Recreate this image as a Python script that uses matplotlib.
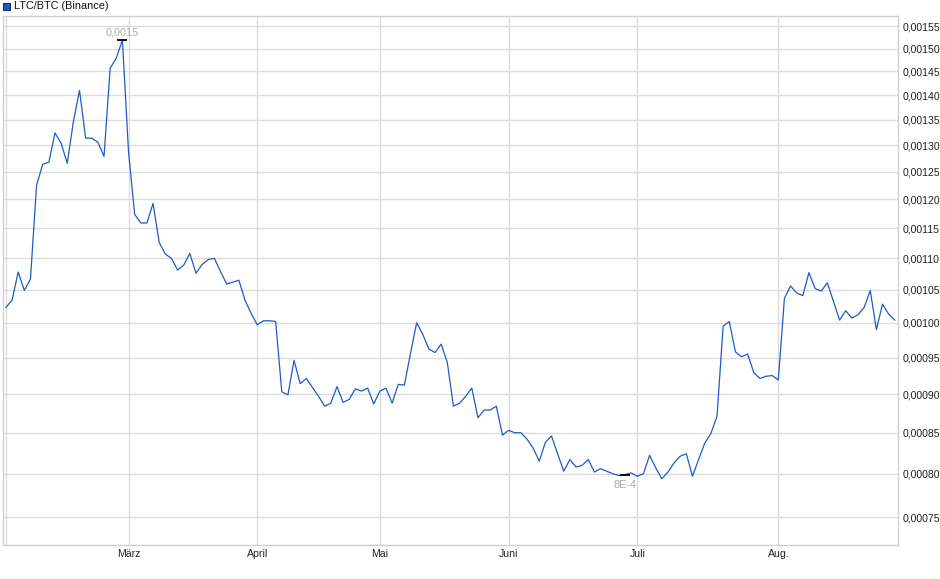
import matplotlib.pyplot as plt
import matplotlib.ticker as mticker
import numpy as np
import pandas as pd

plt.rcParams["font.family"] = ["Liberation Sans", "DejaVu Sans"]

# Handelstage Feb - Aug 2025 (ohne Boersenfeiertage)
start = "2025-02-03"
ende = "2025-08-28"
feiertage = ["2025-04-18", "2025-04-21", "2025-05-01"]

# LTC/BTC Schlusskurse
kurs = [
    0.001023, 0.001034, 0.001078, 0.001049, 0.001067, 0.001226, 0.001264, 0.001268,
    0.001324, 0.001304, 0.001266, 0.001346, 0.001410, 0.001314, 0.001314, 0.001306,
    0.001279, 0.001457, 0.001479, 0.001519,
    0.001287, 0.001174, 0.001159, 0.001159, 0.001193, 0.001126, 0.001107, 0.001100,
    0.001081, 0.001089, 0.001108, 0.001076, 0.001090, 0.001098, 0.001100, 0.001079,
    0.001059, 0.001062, 0.001065, 0.001034, 0.001014,
    0.000997, 0.001003, 0.001003, 0.001002, 0.000903, 0.000899, 0.000946, 0.000914,
    0.000921, 0.000909, 0.000897, 0.000884, 0.000888, 0.000910, 0.000889, 0.000893,
    0.000907, 0.000904, 0.000908, 0.000887,
    0.000904, 0.000908, 0.000888, 0.000913, 0.000912, 0.000956, 0.001000, 0.000983,
    0.000962, 0.000957, 0.000969, 0.000943, 0.000884, 0.000888, 0.000897, 0.000908,
    0.000869, 0.000879, 0.000879, 0.000884, 0.000847,
    0.000853, 0.000850, 0.000850, 0.000842, 0.000831, 0.000815, 0.000838, 0.000846,
    0.000824, 0.000803, 0.000817, 0.000808, 0.000810, 0.000817, 0.000802, 0.000806,
    0.000803, 0.000800, 0.000798, 0.000799, 0.000801,
    0.000797, 0.000800, 0.000822, 0.000807, 0.000794, 0.000802, 0.000813, 0.000821,
    0.000824, 0.000797, 0.000817, 0.000837, 0.000849, 0.000871, 0.000995, 0.001002,
    0.000958, 0.000951, 0.000955, 0.000929, 0.000921, 0.000924, 0.000925,
    0.000919, 0.001037, 0.001056, 0.001045, 0.001041, 0.001077, 0.001052, 0.001048,
    0.001061, 0.001032, 0.001004, 0.001018, 0.001007, 0.001012, 0.001023, 0.001049,
    0.000990, 0.001028, 0.001013, 0.001004,
]

monate = ["März", "April", "Mai", "Juni", "Juli", "Aug."]
monat_nr = [3, 4, 5, 6, 7, 8]

y_ticks = [0.00075, 0.00080, 0.00085, 0.00090, 0.00095, 0.00100, 0.00105, 0.00110,
           0.00115, 0.00120, 0.00125, 0.00130, 0.00135, 0.00140, 0.00145, 0.00150,
           0.00155]

# Hoch / Tief Markierung: (Index, Beschriftung)
hoch = (19, "0,0015")
tief = (101, "8E-4")

tage = pd.bdate_range(start, ende, freq="C", holidays=feiertage)
x = np.arange(len(tage))
y = np.array(kurs)

blau = "#1f5bc6"
gitter = "#dcdcdc"

fig = plt.figure(figsize=(9.4, 5.79), dpi=100)
ax = fig.add_axes([0.0032, 0.0587, 0.9524, 0.9137])

ax.plot(x, y, color=blau, linewidth=0.9, zorder=3)

ax.set_yscale("log")
ax.set_ylim(0.000720, 0.001574)
ax.set_xlim(-0.48, len(tage) - 0.43)

ax.yaxis.set_major_locator(mticker.FixedLocator(y_ticks))
ax.yaxis.set_minor_locator(mticker.NullLocator())
ax.yaxis.set_major_formatter(
    mticker.FuncFormatter(lambda v, p: f"{v:.5f}".replace(".", ",")))
ax.yaxis.tick_right()

# erste Handelstage der Monate
pos = [int(np.argmax(tage.month == m)) for m in monat_nr]
ax.set_xticks(pos)
ax.set_xticklabels(monate)
ax.axvline(x[0], color=gitter, linewidth=1, zorder=1)

ax.tick_params(axis="both", length=0, labelsize=7.6, colors="#222222")
ax.tick_params(axis="y", pad=3)
ax.tick_params(axis="x", pad=3)
ax.grid(True, color=gitter, linewidth=1, zorder=1)
ax.set_axisbelow(True)
for s in ax.spines.values():
    s.set_color("#d0d0d0")
    s.set_linewidth(1)

# Hoch und Tief
ax.plot(hoch[0], y[hoch[0]], marker="_", markersize=7, markeredgewidth=1.3,
        color="black", zorder=4)
ax.annotate(hoch[1], (hoch[0], y[hoch[0]]), xytext=(0, 2), textcoords="offset points",
            ha="center", va="bottom", fontsize=7.8, color="#b5aca0", zorder=5)
ax.plot(tief[0], y[tief[0]], marker="_", markersize=7, markeredgewidth=1.3,
        color="black", zorder=4)
ax.annotate(tief[1], (tief[0], y[tief[0]]), xytext=(0, -4), textcoords="offset points",
            ha="center", va="top", fontsize=7.8, color="#a8a8a8", zorder=5)

# Legende oben links
fig.patches.append(plt.Rectangle((3 / 940, 1 - 10 / 579), 7 / 940, 7 / 579,
                                 transform=fig.transFigure, facecolor=blau,
                                 edgecolor="#0d2f73", linewidth=0.8))
fig.text(14 / 940, 1 - 6 / 579, "LTC/BTC (Binance)", fontsize=7.8, color="#111111",
         va="center", ha="left")

fig.savefig("out.png", dpi=100)
